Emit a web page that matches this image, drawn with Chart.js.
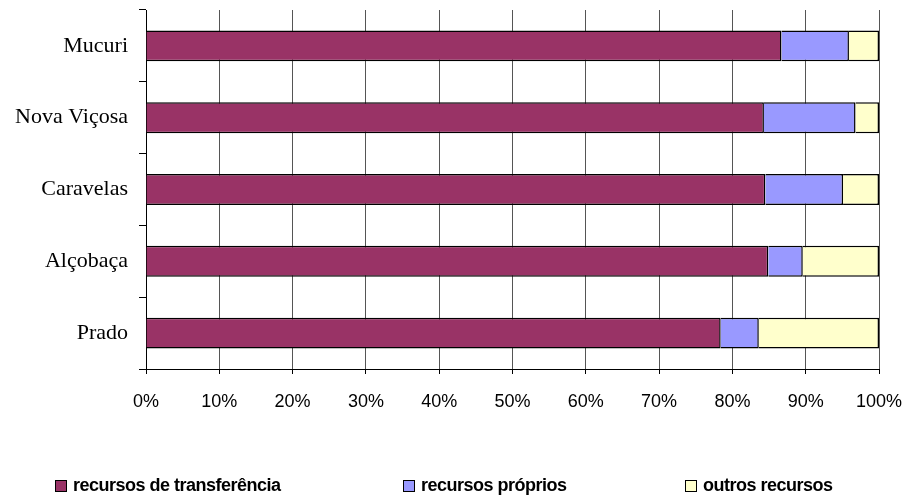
<!DOCTYPE html>
<html>
<head>
<meta charset="utf-8">
<script src="https://cdn.jsdelivr.net/npm/chart.js@4"></script>
<style>
  body { margin: 0; background: #fff; }
  #wrap { position: relative; width: 909px; height: 495px; }
  .leg { position: absolute; top: 474px; font: bold 18px "Liberation Sans", Arial, sans-serif; letter-spacing: -0.5px; color: #000; white-space: nowrap; line-height: 22px; }
  .leg i { display: inline-block; width: 10px; height: 10px; border: 1px solid #000; vertical-align: -1px; margin-right: 6px; }
</style>
</head>
<body>
<div id="wrap">
  <canvas id="chart" width="909" height="495"></canvas>
  <div class="leg" style="left:55px"><i style="background:#993366"></i>recursos de transferência</div>
  <div class="leg" style="left:403px"><i style="background:#9999ff"></i>recursos próprios</div>
  <div class="leg" style="left:685px"><i style="background:#ffffcc"></i>outros recursos</div>
</div>
<script>
let municipios = ["Mucuri", "Nova Viçosa", "Caravelas", "Alçobaça", "Prado"];
let transferencia = [86.7, 84.3, 84.5, 84.9, 78.4];
let proprios = [9.2, 12.5, 10.6, 4.7, 5.2];
let outros = [4.1, 3.2, 4.9, 10.4, 16.4];

function makeSet(label, data, color) {
  return {
    label: label,
    data: data,
    backgroundColor: color,
    borderColor: "#000",
    borderWidth: 1.5,
    barPercentage: 0.43,
    categoryPercentage: 1
  };
}

new Chart(document.getElementById("chart"), {
  type: "bar",
  data: {
    labels: municipios,
    datasets: [
      makeSet("recursos de transferência", transferencia, "#993366"),
      makeSet("recursos próprios", proprios, "#9999ff"),
      makeSet("outros recursos", outros, "#ffffcc")
    ]
  },
  options: {
    indexAxis: "y",
    responsive: false,
    animation: false,
    devicePixelRatio: 1,
    layout: { padding: { top: 10, right: 30, bottom: 66, left: 0 } },
    plugins: { legend: { display: false }, tooltip: { enabled: false } },
    scales: {
      x: {
        stacked: true,
        min: 0,
        max: 100,
        ticks: {
          stepSize: 10,
          callback: v => v + "%",
          color: "#000",
          padding: 17,
          maxRotation: 0,
          font: { family: "'Liberation Sans', Arial", size: 18 }
        },
        grid: { color: "#555", tickLength: 5, tickColor: "#000" },
        border: { color: "#000", width: 1 },
        afterFit: s => { s.height = 60; s.paddingLeft = 0; s.paddingRight = 0; }
      },
      y: {
        stacked: true,
        ticks: {
          color: "#000",
          padding: 11,
          font: { family: "'Liberation Serif', 'Times New Roman'", size: 22 }
        },
        grid: { drawOnChartArea: false, offset: true, tickLength: 7, color: "#000" },
        border: { color: "#000", width: 1 },
        afterFit: s => { s.width = 146; s.paddingTop = 0; s.paddingBottom = 0; }
      }
    }
  }
});
</script>
</body>
</html>
